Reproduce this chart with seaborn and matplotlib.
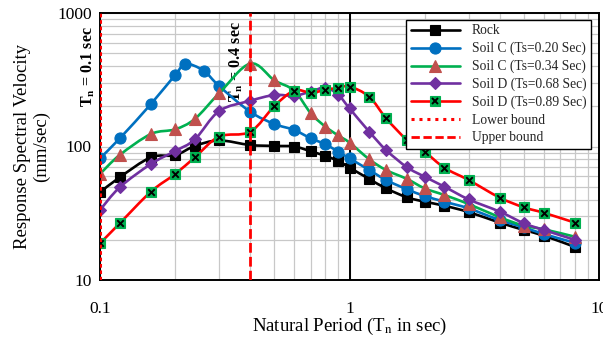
import numpy as np
import pandas as pd
import matplotlib
matplotlib.use("Agg")
import matplotlib.pyplot as plt
import seaborn as sns
from matplotlib.path import Path
from matplotlib.patches import PathPatch
from matplotlib.ticker import LogLocator, NullFormatter, FixedLocator, FixedFormatter
from matplotlib.legend_handler import HandlerTuple

# ---------------- data ----------------
periods = [0.1, 0.12, 0.16, 0.2, 0.24, 0.3, 0.4, 0.5, 0.6, 0.7, 0.8, 0.9, 1.0,
           1.2, 1.4, 1.7, 2.0, 2.4, 3.0, 4.0, 5.0, 6.0, 8.0]
periods_soil_c_020 = [0.1, 0.12, 0.16, 0.2, 0.22, 0.26, 0.3, 0.4, 0.5, 0.6, 0.7, 0.8,
                      0.9, 1.0, 1.2, 1.4, 1.7, 2.0, 2.4, 3.0, 4.0, 5.0, 6.0, 8.0]

rock = [45.4, 58.8, 83, 86, 101, 111, 102.6, 101, 100, 92, 85, 78, 69.5,
        57.1, 48.6, 41.6, 38.6, 36, 32.3, 26.9, 23.7, 21.5, 17.7]
soil_c_020 = [81.6, 115, 208, 343, 415, 370, 284, 182, 147.5, 133, 115, 104,
              91.4, 81.5, 66.7, 56.1, 47.8, 42.6, 38.6, 34.4, 28.1, 24.8, 22.1, 19.0]
soil_c_034 = [62.2, 86.4, 124, 134.5, 161, 250, 418, 313, 262, 177, 141, 121, 107,
              80.2, 66.7, 57.1, 48.6, 43.3, 37.1, 29.5, 25.5, 24.0, 21.1]
soil_d_068 = [33.4, 49.5, 74, 92.5, 113, 184, 220, 243, 240, 258, 276, 245, 193,
              129, 94.2, 69.9, 59.4, 50, 40.2, 32.5, 26.6, 23.7, 20]
soil_d_089 = [18.8, 26.6, 45.9, 62.2, 83, 118.5, 129, 201, 262, 253, 265, 275, 281,
              236, 163, 112, 91.4, 69.3, 56.1, 41.4, 35, 31.9, 26.9]

series_names = ["Rock", "Soil C (Ts=0.20 Sec)", "Soil C (Ts=0.34 Sec)",
                "Soil D (Ts=0.68 Sec)", "Soil D (Ts=0.89 Sec)"]
lower_bound = 0.1
upper_bound = 0.4
x_ticks = [0.1, 1, 10]
x_tick_labels = ["0.1", "1", "10"]
y_ticks = [10, 100, 1000]
y_tick_labels = ["10", "100", "1000"]

frames = []
for name, xs, ys in zip(series_names,
                        [periods, periods_soil_c_020, periods, periods, periods],
                        [rock, soil_c_020, soil_c_034, soil_d_068, soil_d_089]):
    frames.append(pd.DataFrame({"period": xs, "velocity": ys, "series": name}))
df = pd.concat(frames, ignore_index=True)


def smooth_path(xs, ys):
    """Spreadsheet-style smoothed line: cubic Bezier segments in log-log space."""
    lx = np.log10(np.asarray(xs, float))
    ly = np.log10(np.asarray(ys, float))
    P = np.column_stack([lx, ly])
    n = len(P)
    verts = [P[0]]
    codes = [Path.MOVETO]
    for i in range(n - 1):
        p0 = P[i - 1] if i > 0 else P[i]
        p1, p2 = P[i], P[i + 1]
        p3 = P[i + 2] if i + 2 < n else P[i + 1]
        c1 = p1 + (p2 - p0) / 6.0
        c2 = p2 - (p3 - p1) / 6.0
        verts += [c1, c2, p2]
        codes += [Path.CURVE4] * 3
    verts = 10 ** np.array(verts)
    return Path(verts, codes)


# ---------------- style ----------------
sns.set_theme(style="white")
plt.rcParams["font.family"] = ["Liberation Serif", "DejaVu Serif"]
plt.rcParams["mathtext.fontset"] = "stix"

fig = plt.figure(figsize=(6.03, 3.42), dpi=100)
ax = fig.add_axes([100 / 603, 1 - 280 / 342, 499 / 603, 267 / 342])

styles = {
    "Rock": dict(color="black", marker="s", ms=6.5, mfc="black", mec="black"),
    "Soil C (Ts=0.20 Sec)": dict(color="#0070C0", marker="o", ms=8, mfc="#0070C0", mec="#0070C0"),
    "Soil C (Ts=0.34 Sec)": dict(color="#00B050", marker="^", ms=8, mfc="#C0504D", mec="#C0504D"),
    "Soil D (Ts=0.68 Sec)": dict(color="#7030A0", marker="D", ms=6, mfc="#7030A0", mec="#7030A0"),
    "Soil D (Ts=0.89 Sec)": dict(color="#FF0000", marker="s", ms=7.5, mfc="#00B050", mec="#00B050"),
}

ax.set_xscale("log")
ax.set_yscale("log")

handles = []
for i, name in enumerate(series_names):
    sub = df[df["series"] == name]
    st = styles[name]
    z = 3 + i
    ax.add_patch(PathPatch(smooth_path(sub["period"], sub["velocity"]), fill=False,
                           edgecolor=st["color"], lw=1.9, joinstyle="round",
                           capstyle="round", zorder=z))
    sns.lineplot(data=sub, x="period", y="velocity", ax=ax, linestyle="none",
                 marker=st["marker"], markersize=st["ms"],
                 markerfacecolor=st["mfc"], markeredgecolor=st["mec"],
                 markeredgewidth=0.8, legend=False, zorder=z + 0.5)
    proxy = plt.Line2D([], [], color=st["color"], lw=1.9, marker=st["marker"],
                       ms=st["ms"], mfc=st["mfc"], mec=st["mec"], mew=0.8)
    if name == "Soil D (Ts=0.89 Sec)":
        sns.scatterplot(data=sub, x="period", y="velocity", ax=ax, marker="x",
                        color="black", s=22, linewidth=1.4, legend=False, zorder=z + 0.6)
        xh = plt.Line2D([], [], ls="none", marker="x", color="black", ms=5, mew=1.4)
        handles.append((proxy, xh))
    else:
        handles.append(proxy)

ax.axvline(lower_bound, color="red", lw=2.2, ls=(0, (1.2, 0.9)), zorder=9)
ax.axvline(upper_bound, color="red", lw=2.0, ls=(0, (3.5, 1.5)), zorder=9)
ax.axvline(1.0, color="black", lw=1.4, zorder=2)

lb_leg = plt.Line2D([], [], color="red", lw=2.2, ls=(0, (1, 1.6)))
ub_leg = plt.Line2D([], [], color="red", lw=2.0, ls=(0, (3, 1.3)))

ax.set_xlim(0.1, 10)
ax.set_ylim(10, 1000)

ax.xaxis.set_major_locator(FixedLocator(x_ticks))
ax.xaxis.set_major_formatter(FixedFormatter(x_tick_labels))
ax.yaxis.set_major_locator(FixedLocator(y_ticks))
ax.yaxis.set_major_formatter(FixedFormatter(y_tick_labels))
ax.xaxis.set_minor_locator(LogLocator(base=10, subs=np.arange(2, 10)))
ax.yaxis.set_minor_locator(LogLocator(base=10, subs=np.arange(2, 10)))
ax.xaxis.set_minor_formatter(NullFormatter())
ax.yaxis.set_minor_formatter(NullFormatter())

ax.grid(True, which="both", color="#C8C8C8", lw=0.9, zorder=0)
ax.set_axisbelow(True)
ax.tick_params(axis="both", which="both", length=0)
ax.tick_params(axis="x", labelsize=12.5, pad=15, colors="black")
ax.tick_params(axis="y", labelsize=12.5, pad=6, colors="black")
for sp in ax.spines.values():
    sp.set_visible(True)
    sp.set_color("black")
    sp.set_linewidth(1.4)
    sp.set_zorder(8)

ax.set_xlabel(r"Natural Period (T$_\mathrm{n}$ in sec)", fontsize=13.5, color="black")
ax.set_ylabel("Response Spectral Velocity\n(mm/sec)", fontsize=13.5, color="black",
              linespacing=1.15)
ax.xaxis.set_label_coords(0.5, -0.135)
ax.yaxis.set_label_coords(-0.1, 0.5)

ax.annotate(r"T$_\mathbf{n}$ = 0.1 sec", xy=(lower_bound, 400), xytext=(-8, 0),
            textcoords="offset points", rotation=90, ha="center", va="center",
            fontsize=11.5, fontweight="bold", color="black")
ax.annotate(r"T$_\mathbf{n}$ = 0.4 sec", xy=(upper_bound, 430), xytext=(-10, 0),
            textcoords="offset points", rotation=90, ha="center", va="center",
            fontsize=11.5, fontweight="bold", color="black")

leg = ax.legend(handles + [lb_leg, ub_leg], series_names + ["Lower bound", "Upper bound"],
                handler_map={tuple: HandlerTuple(ndivide=1, pad=0)},
                loc="upper right", bbox_to_anchor=(0.99, 0.985), fontsize=9.8,
                frameon=True, fancybox=False, edgecolor="black", framealpha=1,
                handlelength=3.6, labelspacing=0.33, borderpad=0.35, handletextpad=0.9,
                borderaxespad=0.2)
leg.get_frame().set_linewidth(1.0)
leg.set_zorder(10)

fig.savefig("out.png", dpi=100)
